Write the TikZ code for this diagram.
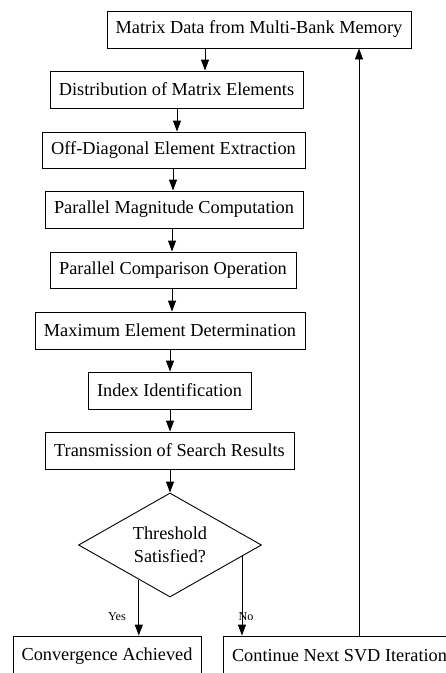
\documentclass[tikz,border=0pt]{standalone}
\usepackage{fontspec}
\setmainfont{Liberation Serif}
\usetikzlibrary{shapes.geometric,arrows.meta}
\begin{document}
\begin{tikzpicture}[x=1pt,y=-1pt,
  box/.style={draw, line width=0.9pt, rectangle, inner sep=0pt, minimum height=37pt,
    font=\fontsize{18.3}{22}\selectfont},
  dia/.style={draw, line width=0.9pt, diamond, aspect=1.76, inner sep=0pt,
    minimum width=183pt, minimum height=104pt, align=center,
    font=\fontsize{18.3}{23}\selectfont},
  arr/.style={line width=0.9pt, -{Triangle[length=11pt,width=8pt]}},
  lbl/.style={inner sep=0pt, font=\fontsize{12.2}{14}\selectfont}]
\useasboundingbox (0,0) rectangle (446,673);
\clip (0,0) rectangle (446,673);
\node[box, minimum width=304pt] (b1) at (259,29.5) {Matrix Data from Multi-Bank Memory};
\node[box, minimum width=253pt] (b2) at (176.5,89.5) {Distribution of Matrix Elements};
\node[box, minimum width=263pt, minimum height=36pt] (b3) at (173.5,150) {Off-Diagonal Element Extraction};
\node[box, minimum width=258pt] (b4) at (174,209.5) {Parallel Magnitude Computation};
\node[box, minimum width=246pt, minimum height=36pt] (b5) at (173,270) {Parallel Comparison Operation};
\node[box, minimum width=270pt] (b6) at (170,330.5) {Maximum Element Determination};
\node[box, minimum width=163pt] (b7) at (169.5,390.5) {Index Identification};
\node[box, minimum width=249pt] (b8) at (169.5,450.5) {Transmission of Search Results};
\node[dia] (d) at (170,545) {Threshold\\Satisfied?};
\node[box, minimum width=188pt, minimum height=40pt] (conv) at (107,656) {Convergence Achieved};
\node[box, minimum width=233pt, minimum height=40pt] (cont) at (339.5,656) {Continue Next SVD Iteration};
\coordinate (c1) at (205,0);
\coordinate (c2) at (177,0);
\coordinate (c3) at (173,0);
\coordinate (c4) at (172,0);
\coordinate (c5) at (170,0);
\coordinate (c9) at (359,0);
\draw[arr] (b1.south -| c1) -- (b2.north -| c1);
\draw[arr] (b2.south -| c2) -- (b3.north -| c2);
\draw[arr] (b3.south -| c3) -- (b4.north -| c3);
\draw[arr] (b4.south -| c4) -- (b5.north -| c4);
\draw[arr] (b5.south -| c4) -- (b6.north -| c4);
\draw[arr] (b6.south -| c5) -- (b7.north -| c5);
\draw[arr] (b7.south -| c5) -- (b8.north -| c5);
\draw[arr] (b8.south -| c5) -- (d.north);
\draw[arr] (d.228) -- (d.228 |- conv.north);
\draw[arr] (d.351.3) -- (d.351.3 |- cont.north);
\draw[arr] (cont.north -| c9) -- (b1.south -| c9);
\node[lbl] (yes) at (117,617) {Yes};
\node[lbl] (no) at (246,617) {No};
\end{tikzpicture}
\end{document}
